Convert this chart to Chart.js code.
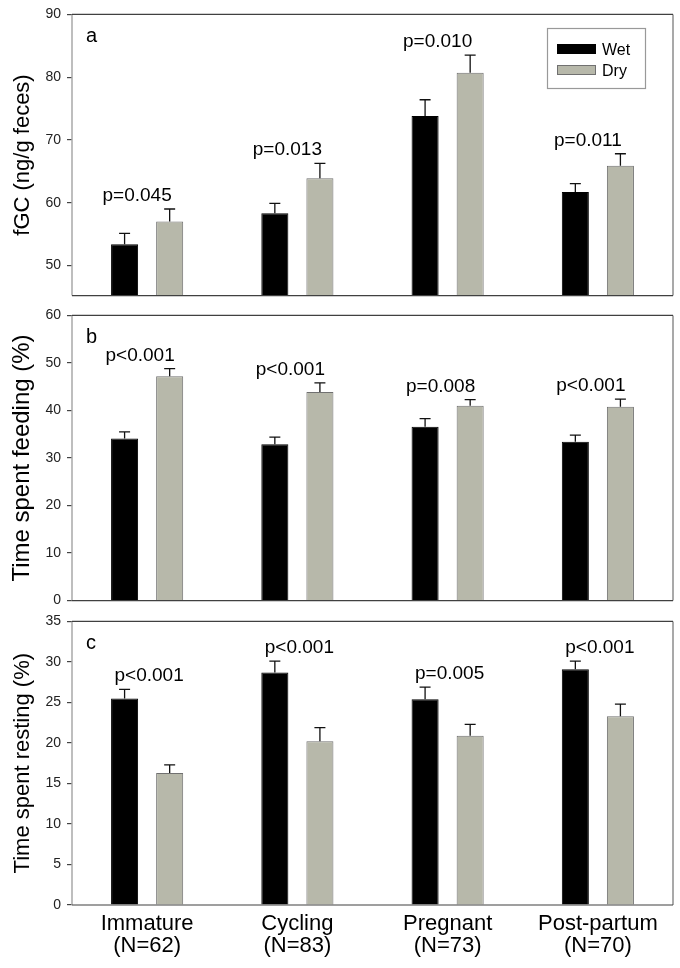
<!DOCTYPE html>
<html>
<head>
<meta charset="utf-8">
<script src="https://cdn.jsdelivr.net/npm/chart.js@4"></script>
<style>
    body { margin: 0; background: #fff; }
    #quadro { position: relative; width: 680px; height: 968px; background: #fff; }
    canvas { position: absolute; left: 0; }
</style>
</head>
<body>
<div id="quadro">
    <canvas id="graficoA" width="680" height="310" style="top:0px"></canvas>
    <canvas id="graficoB" width="680" height="314" style="top:301px"></canvas>
    <canvas id="graficoC" width="680" height="361" style="top:607px"></canvas>
</div>
<script>
// categorias (eixo x)
const categorias = [['Immature', '(N=62)'], ['Cycling', '(N=83)'], ['Pregnant', '(N=73)'], ['Post-partum', '(N=70)']];
const series = ['Wet', 'Dry'];

// painel a - fGC
const fgcWet = [53.4, 58.3, 73.8, 61.7];
const fgcWetSE = [1.7, 1.6, 2.6, 1.35];
const fgcDry = [57.0, 63.9, 80.7, 65.9];
const fgcDrySE = [2.0, 2.35, 2.8, 1.9];
const fgcP = ['p=0.045', 'p=0.013', 'p=0.010', 'p=0.011'];

// painel b - alimentacao
const feedWet = [34.1, 32.9, 36.6, 33.4];
const feedWetSE = [1.4, 1.5, 1.7, 1.4];
const feedDry = [47.2, 43.9, 41.0, 40.8];
const feedDrySE = [1.6, 1.9, 1.3, 1.6];
const feedP = ['p<0.001', 'p<0.001', 'p=0.008', 'p<0.001'];

// painel c - descanso
const restWet = [25.5, 28.7, 25.4, 29.1];
const restWetSE = [1.1, 1.4, 1.5, 1.0];
const restDry = [16.3, 20.2, 20.9, 23.3];
const restDrySE = [1.0, 1.7, 1.4, 1.5];
const restP = ['p<0.001', 'p<0.001', 'p=0.005', 'p<0.001'];

const FONTE = '"Liberation Sans", Arial, sans-serif';
const corWet = '#000000';
const corDry = '#b7b8aa';

// desenha barras de erro, moldura, letras, p-valores e legenda
const decoracao = {
    id: 'decoracao',
    afterDatasetsDraw(chart, args, opts) {
        const ctx = chart.ctx;
        const area = chart.chartArea;
        const yScale = chart.scales.y;
        const xScale = chart.scales.x;
        ctx.save();

        // barras de erro (so para cima)
        const topos = [];
        chart.data.datasets.forEach(function (ds, d) {
            const meta = chart.getDatasetMeta(d);
            meta.data.forEach(function (bar, i) {
                const yTopo = yScale.getPixelForValue(ds.data[i] + ds.erro[i]);
                topos[i] = topos[i] === undefined ? yTopo : Math.min(topos[i], yTopo);
                ctx.strokeStyle = '#111';
                ctx.lineWidth = 1.3;
                ctx.beginPath();
                ctx.moveTo(bar.x, bar.y);
                ctx.lineTo(bar.x, yTopo);
                ctx.moveTo(bar.x - 5.5, yTopo);
                ctx.lineTo(bar.x + 5.5, yTopo);
                ctx.stroke();
            });
        });

        // moldura
        ctx.lineWidth = 1.5;
        ctx.strokeStyle = '#a9a9a9';
        ctx.beginPath();
        ctx.moveTo(area.left, area.top);
        ctx.lineTo(area.left, area.bottom);
        ctx.stroke();
        ctx.lineWidth = 2;
        ctx.beginPath();
        ctx.moveTo(area.right, area.top);
        ctx.lineTo(area.right, area.bottom);
        ctx.stroke();
        ctx.strokeStyle = '#404040';
        ctx.lineWidth = 1.2;
        ctx.beginPath();
        ctx.moveTo(area.left, area.top);
        ctx.lineTo(area.right, area.top);
        ctx.moveTo(area.left, area.bottom);
        ctx.lineTo(area.right, area.bottom);
        ctx.stroke();

        // letra do painel
        ctx.fillStyle = '#000';
        ctx.font = '20px ' + FONTE;
        ctx.textAlign = 'left';
        ctx.textBaseline = 'alphabetic';
        ctx.fillText(opts.letra, area.left + 14, area.top + 27.5);

        // p-valores
        ctx.font = '19px ' + FONTE;
        ctx.textAlign = 'center';
        opts.pValores.forEach(function (txt, i) {
            ctx.fillText(txt, xScale.getPixelForValue(i) + opts.desvioP, topos[i] - 8);
        });

        // legenda
        if (opts.legenda) {
            ctx.strokeStyle = '#999';
            ctx.lineWidth = 1.2;
            ctx.strokeRect(547.5, 28.5, 98, 60);
            ctx.font = '16px ' + FONTE;
            ctx.textAlign = 'left';
            chart.data.datasets.forEach(function (ds, d) {
                const y0 = 44 + d * 21;
                ctx.fillStyle = ds.backgroundColor;
                ctx.fillRect(557, y0, 39, 10);
                ctx.strokeStyle = ds.borderColor;
                ctx.lineWidth = 1;
                ctx.strokeRect(557.5, y0 + 0.5, 38, 9);
                ctx.fillStyle = '#000';
                ctx.fillText(ds.label, 602, y0 + 10.5);
            });
        }
        ctx.restore();
    }
};

function criarGrafico(id, wet, wetSE, dry, drySE, cfg) {
    const ctx = document.getElementById(id).getContext('2d');
    return new Chart(ctx, {
        type: 'bar',
        data: {
            labels: categorias,
            datasets: [{
                label: series[0],
                data: wet,
                erro: wetSE,
                backgroundColor: corWet,
                borderColor: '#000000',
                borderWidth: 1,
                categoryPercentage: 0.6,
                barPercentage: 0.6
            }, {
                label: series[1],
                data: dry,
                erro: drySE,
                backgroundColor: corDry,
                borderColor: '#707070',
                borderWidth: 1,
                categoryPercentage: 0.6,
                barPercentage: 0.6
            }]
        },
        options: {
            responsive: false,
            animation: false,
            layout: { padding: cfg.padding },
            plugins: {
                legend: { display: false },
                tooltip: { enabled: false },
                decoracao: { letra: cfg.letra, pValores: cfg.pValores, desvioP: cfg.desvioP, legenda: cfg.legenda }
            },
            scales: {
                x: {
                    display: cfg.mostrarX,
                    grid: { display: false, drawTicks: false },
                    border: { display: false },
                    ticks: {
                        color: '#000',
                        padding: 8,
                        maxRotation: 0,
                        font: { family: FONTE, size: 22, lineHeight: 1.0 }
                    },
                    afterFit: function (scale) {
                        if (cfg.mostrarX) scale.height = 60;
                    }
                },
                y: {
                    min: cfg.min,
                    max: cfg.max,
                    afterBuildTicks: function (scale) {
                        scale.ticks = cfg.ticks.map(v => ({ value: v }));
                    },
                    grid: { drawOnChartArea: false, tickLength: 5, tickColor: '#444', lineWidth: 1.2 },
                    border: { display: false },
                    ticks: {
                        color: '#222',
                        padding: 6,
                        font: { family: FONTE, size: 14 }
                    },
                    title: {
                        display: true,
                        text: cfg.titulo,
                        color: '#000',
                        padding: { top: cfg.tamTitulo > 23 ? 8 : 10, bottom: 0 },
                        font: { family: FONTE, size: cfg.tamTitulo }
                    },
                    afterFit: function (scale) { scale.width = 72; }
                }
            }
        },
        plugins: [decoracao]
    });
}

criarGrafico('graficoA', fgcWet, fgcWetSE, fgcDry, fgcDrySE, {
    padding: { left: 0, right: 7, top: 14.3, bottom: 10 },
    min: 45.2, max: 90, ticks: [50, 60, 70, 80, 90],
    titulo: 'fGC (ng/g feces)', tamTitulo: 22, letra: 'a', pValores: fgcP, desvioP: -10,
    legenda: true, mostrarX: false
});

criarGrafico('graficoB', feedWet, feedWetSE, feedDry, feedDrySE, {
    padding: { left: 0, right: 7, top: 14, bottom: 12 },
    min: 0, max: 60, ticks: [0, 10, 20, 30, 40, 50, 60],
    titulo: 'Time spent feeding (%)', tamTitulo: 24, letra: 'b', pValores: feedP, desvioP: -7,
    legenda: false, mostrarX: false
});

criarGrafico('graficoC', restWet, restWetSE, restDry, restDrySE, {
    padding: { left: 0, right: 7, top: 14, bottom: 3 },
    min: 0, max: 35, ticks: [0, 5, 10, 15, 20, 25, 30, 35],
    titulo: 'Time spent resting (%)', tamTitulo: 22, letra: 'c', pValores: restP, desvioP: 2,
    legenda: false, mostrarX: true
});
</script>
</body>
</html>
